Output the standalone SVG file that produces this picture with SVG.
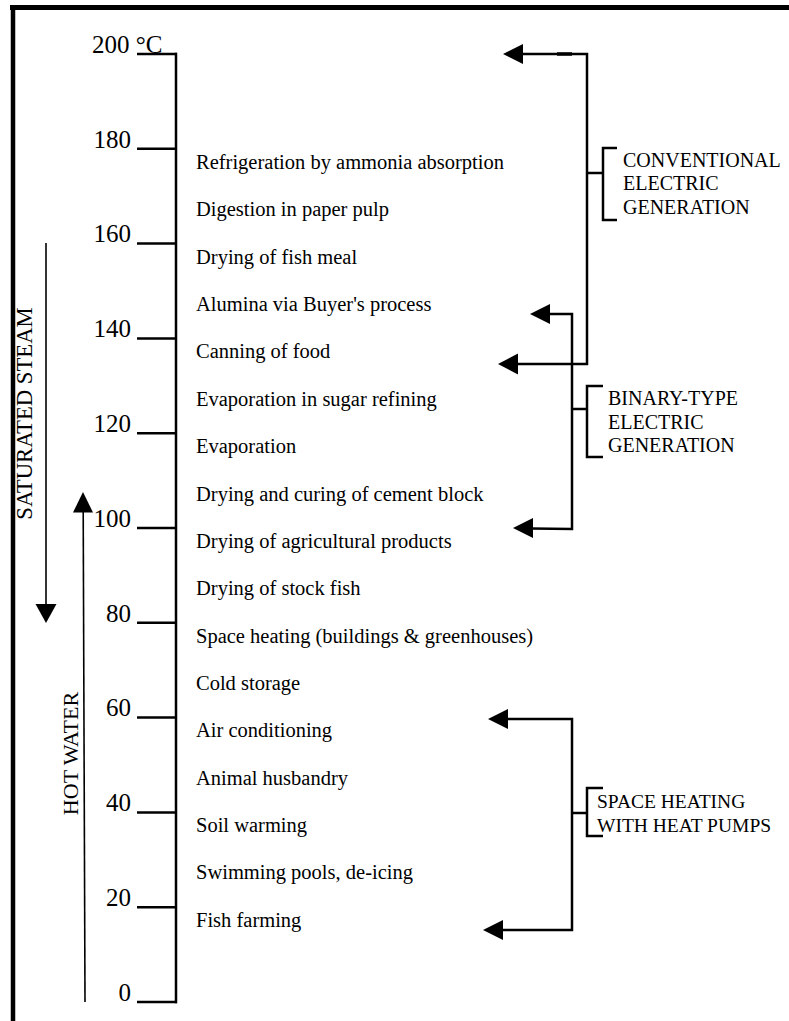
<svg xmlns="http://www.w3.org/2000/svg" width="789" height="1021" viewBox="0 0 789 1021">
<style>
.ln{stroke:#000;stroke-width:2.5;fill:none}
.thin{stroke:#000;stroke-width:1.6;fill:none}
.num{font-family:"Liberation Serif","Times New Roman",serif;font-size:25px;fill:#000}
.item{font-family:"Liberation Serif","Times New Roman",serif;font-size:20.5px;fill:#000}
.grp{font-family:"Liberation Serif","Times New Roman",serif;font-size:20px;fill:#000}
.side{font-family:"Liberation Serif","Times New Roman",serif;font-size:22.7px;fill:#000}
.ah{fill:#000}
</style>
<rect x="0" y="0" width="789" height="1021" fill="#fff"/>
<g id="frame">
<line x1="10" y1="7.5" x2="789" y2="7.5" stroke="#000" stroke-width="5"/>
<line x1="13" y1="5" x2="13" y2="1021" stroke="#000" stroke-width="4.5"/>
</g>
<g id="axis">
<line class="ln" x1="176" y1="52.8" x2="176" y2="1003.2"/>
<line class="ln" x1="137" y1="54" x2="177" y2="54"/>
<line class="ln" x1="137" y1="148.8" x2="177" y2="148.8"/>
<line class="ln" x1="137" y1="243.6" x2="177" y2="243.6"/>
<line class="ln" x1="137" y1="338.4" x2="177" y2="338.4"/>
<line class="ln" x1="137" y1="433.2" x2="177" y2="433.2"/>
<line class="ln" x1="137" y1="528" x2="177" y2="528"/>
<line class="ln" x1="137" y1="622.8" x2="177" y2="622.8"/>
<line class="ln" x1="137" y1="717.6" x2="177" y2="717.6"/>
<line class="ln" x1="137" y1="812.4" x2="177" y2="812.4"/>
<line class="ln" x1="137" y1="907.2" x2="177" y2="907.2"/>
<line class="ln" x1="137" y1="1002" x2="177" y2="1002"/>
<text class="num" x="92" y="53">200 °C</text>
<text class="num" x="131" y="147.5" text-anchor="end">180</text>
<text class="num" x="131" y="242.3" text-anchor="end">160</text>
<text class="num" x="131" y="337.1" text-anchor="end">140</text>
<text class="num" x="131" y="431.9" text-anchor="end">120</text>
<text class="num" x="131" y="526.7" text-anchor="end">100</text>
<text class="num" x="131" y="621.5" text-anchor="end">80</text>
<text class="num" x="131" y="716.3" text-anchor="end">60</text>
<text class="num" x="131" y="811.1" text-anchor="end">40</text>
<text class="num" x="131" y="905.9" text-anchor="end">20</text>
<text class="num" x="131" y="1000.7" text-anchor="end">0</text>
</g>
<g id="items">
<text class="item" x="196" y="169">Refrigeration by ammonia absorption</text>
<text class="item" x="196" y="216.4">Digestion in paper pulp</text>
<text class="item" x="196" y="263.7">Drying of fish meal</text>
<text class="item" x="196" y="311.1">Alumina via Buyer's process</text>
<text class="item" x="196" y="358.4">Canning of food</text>
<text class="item" x="196" y="405.8">Evaporation in sugar refining</text>
<text class="item" x="196" y="453.2">Evaporation</text>
<text class="item" x="196" y="500.5">Drying and curing of cement block</text>
<text class="item" x="196" y="547.9">Drying of agricultural products</text>
<text class="item" x="196" y="595.2">Drying of stock fish</text>
<text class="item" x="196" y="642.6">Space heating (buildings &amp; greenhouses)</text>
<text class="item" x="196" y="690">Cold storage</text>
<text class="item" x="196" y="737.3">Air conditioning</text>
<text class="item" x="196" y="784.7">Animal husbandry</text>
<text class="item" x="196" y="832">Soil warming</text>
<text class="item" x="196" y="879.4">Swimming pools, de-icing</text>
<text class="item" x="196" y="926.8">Fish farming</text>
</g>
<g id="saturated-steam">
<line class="thin" x1="46" y1="243" x2="46" y2="606"/>
<polygon class="ah" points="35.5,604 56.5,604 46,623"/>
<text class="side" x="32" y="413.5" text-anchor="middle" transform="rotate(-90 32 413.5)">SATURATED STEAM</text>
</g>
<g id="hot-water">
<line class="thin" x1="85" y1="1002" x2="83.2" y2="510"/>
<polygon class="ah" points="73,512.5 93,512.5 83,492"/>
<text class="side" style="font-size:22px" x="78" y="753.5" text-anchor="middle" transform="rotate(-90 78 753.5)">HOT WATER</text>
</g>
<g id="connectors">
<polyline class="ln" points="521,54 587,54 587,364 516,364"/>
<polygon class="ah" points="503,54 523,44 523,64"/>
<polygon class="ah" points="498,364 518,353.5 518,374.5"/>
<line x1="557" y1="54" x2="572" y2="54" stroke="#000" stroke-width="3.5"/>
<line class="ln" x1="587" y1="173" x2="603" y2="173"/>
<polyline class="ln" points="548,314 572,314 572,529 531,528.5"/>
<polygon class="ah" points="530,314 550,304 550,324"/>
<polygon class="ah" points="513,528 533,518 533,538"/>
<line class="ln" x1="572" y1="409" x2="587" y2="409"/>
<polyline class="ln" points="506,719 572,719 572,930 501,930"/>
<polygon class="ah" points="488,719 508,709 508,729"/>
<polygon class="ah" points="483,930 503,920 503,940"/>
<line class="ln" x1="572" y1="813" x2="587" y2="813"/>
</g>
<g id="conventional">
<polyline class="ln" points="617,148 603,148 603,220 617,220"/>
<text class="grp" x="623" y="167">CONVENTIONAL</text>
<text class="grp" x="623" y="190">ELECTRIC</text>
<text class="grp" x="623" y="214">GENERATION</text>
</g>
<g id="binary">
<polyline class="ln" points="603,386 587,386 587,457 603,457"/>
<text class="grp" x="608" y="405">BINARY-TYPE</text>
<text class="grp" x="608" y="428.5">ELECTRIC</text>
<text class="grp" x="608" y="452">GENERATION</text>
</g>
<g id="heat-pumps">
<polyline class="ln" points="603,788 587,788 587,836 603,836"/>
<text class="grp" style="font-size:19.5px" x="597" y="808">SPACE HEATING</text>
<text class="grp" style="font-size:19.5px" x="597" y="832">WITH HEAT PUMPS</text>
</g>
</svg>
